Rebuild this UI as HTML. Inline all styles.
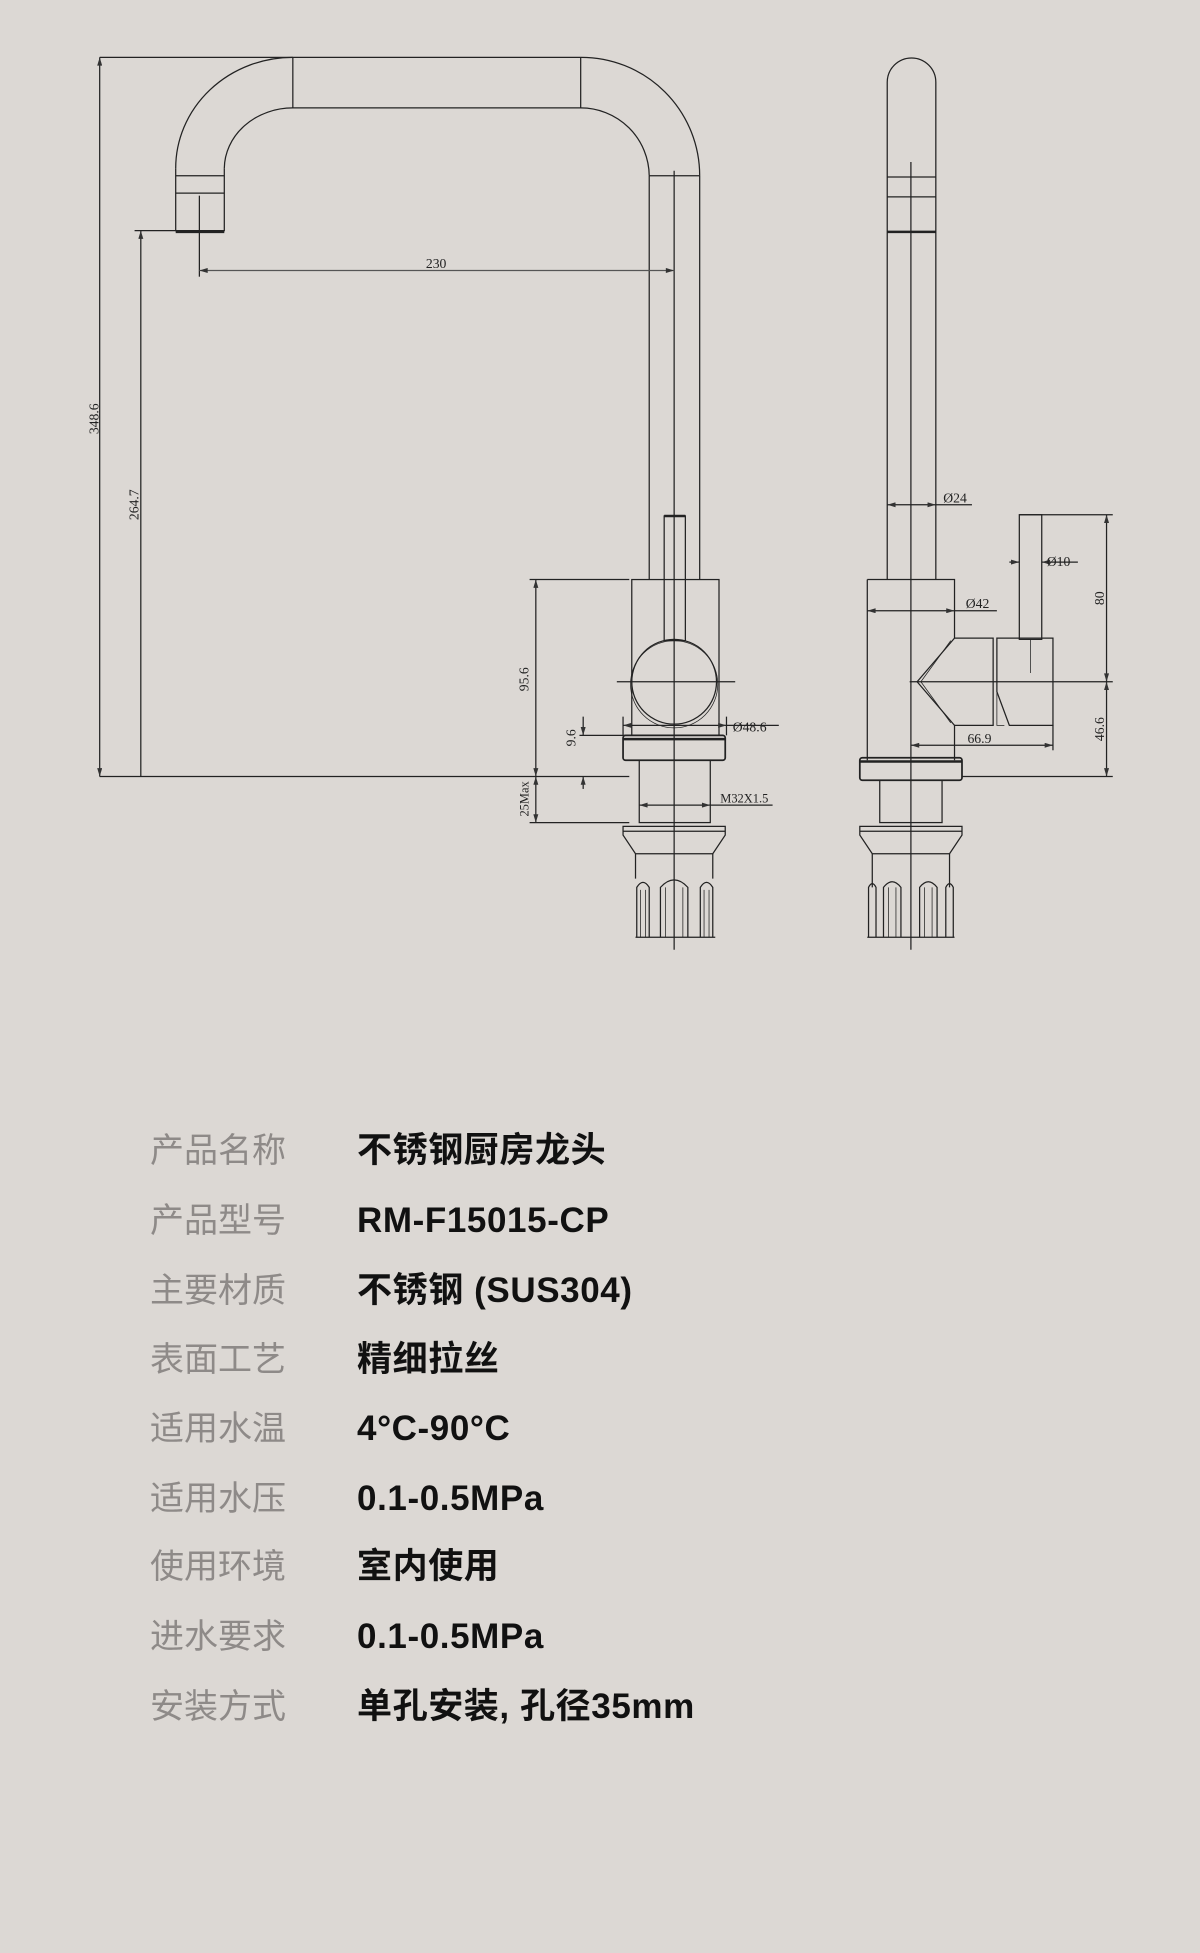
<!DOCTYPE html>
<html><head><meta charset="utf-8"><style>
html,body{margin:0;padding:0;}
body{width:1200px;height:1953px;background:#dcd8d4;position:relative;overflow:hidden;}
svg{position:absolute;left:0;top:0;}
.r{position:absolute;left:0;height:40px;line-height:40px;white-space:nowrap;}
.l{position:absolute;left:150px;color:#8e8a88;font-size:34px;font-family:"Liberation Sans","Noto Sans CJK SC",sans-serif;}
.v{position:absolute;left:357px;color:#111;font-weight:bold;font-size:35px;letter-spacing:0.6px;font-family:"Liberation Sans","Noto Sans CJK SC",sans-serif;}
</style></head><body>
<svg width="1200" height="1953" viewBox="0 0 963 1567" preserveAspectRatio="none">
<defs><marker id="a" viewBox="0 0 10 6" refX="10" refY="3" markerWidth="8" markerHeight="4" orient="auto-start-reverse"><path d="M0,0L10,3L0,6z" fill="#333"/></marker></defs>
<g fill="none" stroke="#222" stroke-width="1">
<path d="M141,135 A94,89 0 0 1 235,46 L466,46 A95,95 0 0 1 561.5,141"/>
<path d="M180,135 A55,49 0 0 1 235,86.6 L466,86.6 A55,55 0 0 1 521,141"/>
<line x1="235" y1="46" x2="235" y2="86.6"/><line x1="466" y1="46" x2="466" y2="86.6"/>
<path d="M141,135 L141,185 L180,185 L180,135"/>
<line x1="141" y1="141" x2="180" y2="141"/><line x1="141" y1="155" x2="180" y2="155"/>
<line x1="141" y1="186" x2="180" y2="186" stroke-width="2"/>
<line x1="521" y1="141" x2="561.5" y2="141"/>
<line x1="521" y1="141" x2="521" y2="465"/><line x1="561.5" y1="141" x2="561.5" y2="465"/>
<line x1="541" y1="137" x2="541" y2="762"/>
<rect x="533" y="414" width="17" height="100"/>
<line x1="533" y1="414" x2="550" y2="414" stroke-width="2"/>
<rect x="507" y="465" width="70" height="125"/>
<circle cx="541" cy="547" r="34"/><circle cx="541" cy="549" r="35" stroke-width="0.6"/>
<line x1="495" y1="547" x2="590" y2="547"/>
<rect x="500" y="590" width="82" height="20" rx="2" stroke-width="1.4"/>
<line x1="500" y1="593" x2="582" y2="593" stroke-width="2"/>
<rect x="513" y="610" width="57" height="50"/>
<path d="M500,663 L582,663 L582,670 L572,685 L510,685 L500,670Z"/>
<line x1="500" y1="667" x2="582" y2="667"/>
<path d="M510,685 L510,705 M572,685 L572,705"/>
<path d="M511,752 L511,712 Q516,704 521,712 L521,752 M530,752 L530,712 Q541,700 552,712 L552,752 M562,752 L562,712 Q567,704 572,712 L572,752 M510,752 L574,752"/>
<path d="M514,752 L514,714 M518,752 L518,714 M534,752 L534,712 M548,752 L548,712 M565,752 L565,714 M569,752 L569,714" stroke-width="0.6"/>
<line x1="80" y1="46" x2="235" y2="46"/>
<line x1="80" y1="46" x2="80" y2="623" marker-start="url(#a)" marker-end="url(#a)"/>
<line x1="80" y1="623" x2="505" y2="623"/>
<line x1="108" y1="185" x2="141" y2="185"/>
<line x1="113" y1="185" x2="113" y2="623" marker-start="url(#a)"/>
<line x1="160" y1="157" x2="160" y2="222"/>
<line x1="160" y1="217" x2="541" y2="217" marker-start="url(#a)" marker-end="url(#a)" stroke="#555"/>
<line x1="425" y1="465" x2="505" y2="465"/>
<line x1="430" y1="465" x2="430" y2="623" marker-start="url(#a)" marker-end="url(#a)"/>
<line x1="430" y1="623" x2="430" y2="660" marker-start="url(#a)" marker-end="url(#a)"/>
<line x1="425" y1="660" x2="505" y2="660"/>
<line x1="465" y1="590" x2="505" y2="590"/>
<line x1="468" y1="575" x2="468" y2="590" marker-end="url(#a)"/>
<line x1="468" y1="623" x2="468" y2="633" marker-start="url(#a)"/>
<line x1="500" y1="582" x2="583" y2="582" marker-start="url(#a)" marker-end="url(#a)"/>
<line x1="583" y1="582" x2="625" y2="582"/>
<line x1="500" y1="575" x2="500" y2="590"/><line x1="583" y1="575" x2="583" y2="590"/>
<line x1="513" y1="646" x2="570" y2="646" marker-start="url(#a)" marker-end="url(#a)"/>
<line x1="570" y1="646" x2="620" y2="646"/>
<path d="M712,465 L712,66 A19.5,19.5 0 0 1 751,66 L751,465"/>
<line x1="712" y1="142" x2="751" y2="142"/><line x1="712" y1="158" x2="751" y2="158"/>
<line x1="712" y1="186" x2="751" y2="186" stroke-width="2"/>
<line x1="731" y1="130" x2="731" y2="762"/>
<line x1="712" y1="405" x2="751" y2="405" marker-start="url(#a)" marker-end="url(#a)"/>
<line x1="751" y1="405" x2="780" y2="405"/>
<path d="M696,465 L766,465 L766,512 M766,582 L766,610 M696,465 L696,610"/>
<line x1="696" y1="490" x2="766" y2="490" marker-start="url(#a)" marker-end="url(#a)"/>
<line x1="766" y1="490" x2="800" y2="490"/>
<path d="M766,512 L736,547 L766,582"/><path d="M763,514 L739,547 L763,580" stroke-width="0.6"/>
<path d="M766,512 L797,512 L797,582 L766,582"/>
<path d="M800,512 L845,512 L845,582 L810,582 L800,555 Z"/>
<path d="M800,555 L800,582 L806,582" stroke-width="0.6"/>
<rect x="818" y="413" width="18" height="100"/>
<line x1="827" y1="513" x2="827" y2="540" stroke-width="0.6"/>
<line x1="810" y1="451" x2="818" y2="451" marker-end="url(#a)"/><line x1="836" y1="451" x2="865" y2="451" marker-start="url(#a)"/>
<line x1="730" y1="547" x2="893" y2="547"/>
<line x1="818" y1="413" x2="893" y2="413"/>
<line x1="888" y1="413" x2="888" y2="547" marker-start="url(#a)" marker-end="url(#a)"/>
<line x1="888" y1="547" x2="888" y2="623" marker-start="url(#a)" marker-end="url(#a)"/>
<line x1="772" y1="623" x2="893" y2="623"/>
<line x1="845" y1="582" x2="845" y2="602"/>
<line x1="731" y1="598" x2="845" y2="598" marker-start="url(#a)" marker-end="url(#a)"/>
<rect x="690" y="608" width="82" height="18" rx="2" stroke-width="1.4"/>
<line x1="690" y1="611" x2="772" y2="611" stroke-width="2"/>
<rect x="706" y="626" width="50" height="34"/>
<path d="M690,663 L772,663 L772,670 L762,685 L700,685 L690,670Z"/>
<line x1="690" y1="667" x2="772" y2="667"/>
<path d="M700,685 L700,712 M762,685 L762,712"/>
<path d="M697,752 L697,712 Q700,706 703,712 L703,752 M709,752 L709,712 Q716,703 723,712 L723,752 M738,752 L738,712 Q745,703 752,712 L752,752 M759,752 L759,712 Q762,706 765,712 L765,752 M696,752 L766,752"/>
<path d="M713,752 L713,712 M719,752 L719,712 M742,752 L742,712 M748,752 L748,712" stroke-width="0.6"/>
</g>
<g font-family="Liberation Serif,serif" font-size="11" fill="#222">
<text x="350" y="215" text-anchor="middle">230</text>
<text transform="translate(79,336) rotate(-90)" text-anchor="middle">348.6</text>
<text transform="translate(111,405) rotate(-90)" text-anchor="middle">264.7</text>
<text transform="translate(424,545) rotate(-90)" text-anchor="middle">95.6</text>
<text transform="translate(462,592) rotate(-90)" text-anchor="middle">9.6</text>
<text transform="translate(424,641) rotate(-90)" text-anchor="middle" font-size="10">25Max</text>
<text x="588" y="587">Ø48.6</text>
<text x="578" y="644" font-size="10">M32X1.5</text>
<text x="757" y="403">Ø24</text>
<text x="775" y="488">Ø42</text>
<text x="840" y="454">Ø10</text>
<text transform="translate(886,480) rotate(-90)" text-anchor="middle">80</text>
<text transform="translate(886,585) rotate(-90)" text-anchor="middle">46.6</text>
<text x="786" y="596" text-anchor="middle">66.9</text>
</g>
</svg>
<div class="r" style="top:1131px"><span class="l">产品名称</span><span class="v">不锈钢厨房龙头</span></div>
<div class="r" style="top:1201px"><span class="l">产品型号</span><span class="v">RM-F15015-CP</span></div>
<div class="r" style="top:1271px"><span class="l">主要材质</span><span class="v">不锈钢 (SUS304)</span></div>
<div class="r" style="top:1340px"><span class="l">表面工艺</span><span class="v">精细拉丝</span></div>
<div class="r" style="top:1409px"><span class="l">适用水温</span><span class="v">4°C-90°C</span></div>
<div class="r" style="top:1479px"><span class="l">适用水压</span><span class="v">0.1-0.5MPa</span></div>
<div class="r" style="top:1547px"><span class="l">使用环境</span><span class="v">室内使用</span></div>
<div class="r" style="top:1617px"><span class="l">进水要求</span><span class="v">0.1-0.5MPa</span></div>
<div class="r" style="top:1687px"><span class="l">安装方式</span><span class="v">单孔安装, 孔径35mm</span></div>
</body></html>
